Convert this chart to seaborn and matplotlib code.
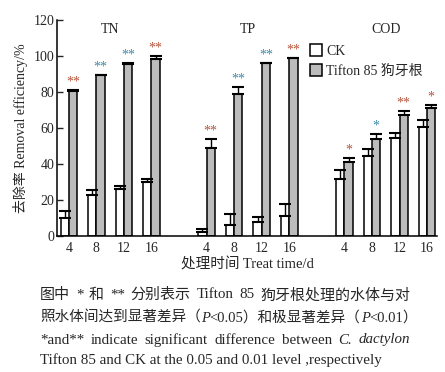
import pandas as pd
import matplotlib.pyplot as plt
import seaborn as sns

# data (removal efficiency, %)
groups = ["TN", "TP", "COD"]
days = [4, 8, 12, 16]
ck_mean = [9.9, 22.7, 26.0, 29.9,
           2.6, 6.1, 7.8, 11.3,
           31.7, 44.6, 54.4, 60.7]
ck_err = [3.9, 2.8, 1.9, 1.7,
          1.3, 6.1, 2.8, 6.5,
          5.0, 3.7, 2.8, 3.9]
tif_mean = [80.7, 89.4, 95.9, 98.3,
            48.9, 78.9, 96.1, 98.9,
            41.1, 53.9, 67.4, 71.1]
tif_err = [0.6, 0.5, 0.4, 1.7,
           5.0, 3.9, 0.3, 0.4,
           2.2, 2.8, 2.2, 1.7]
sig_marks = ["**", "**", "**", "**",
             "**", "**", "**", "**",
             "*", "*", "**", "*"]
sig_colors = ["#b4553d", "#3d8aa6", "#3d8aa6", "#b4553d",
              "#b4553d", "#3d8aa6", "#3d8aa6", "#b4553d",
              "#b4553d", "#3d8aa6", "#b4553d", "#b4553d"]

ck_name = "CK"
tif_name = "Tifton 85 狗牙根"

# slot positions: 4 days per group, one empty slot between groups
pos = [g * 5 + i for g in range(len(groups)) for i in range(len(days))]
tick_labels = [str(d) for _ in groups for d in days]

df = pd.DataFrame({
    "pos": pos * 2,
    "value": ck_mean + tif_mean,
    "err": ck_err + tif_err,
    "group": [ck_name] * len(pos) + [tif_name] * len(pos),
})

sns.set_theme(style="ticks")
plt.rcParams["font.family"] = ["Liberation Serif", "Noto Sans CJK SC"]

fig = plt.figure(figsize=(4.45, 3.72), dpi=100)
ax = fig.add_axes([0.128, 0.365, 0.854, 0.580])

sns.barplot(data=df, x="pos", y="value", hue="group", native_scale=True,
            palette={ck_name: "white", tif_name: "#bcbcbc"},
            edgecolor="black", linewidth=1.1, width=0.6,
            errorbar=None, ax=ax)

# one-sided error bars + significance marks
for p in ax.patches:
    cx = p.get_x() + p.get_width() / 2
    h = p.get_height()
    hit = df[(abs(df["pos"] - cx) < 0.5) & (abs(df["value"] - h) < 1e-6)]
    if hit.empty:
        continue
    row = hit.iloc[0]
    ax.errorbar(cx, h, yerr=[[0], [row["err"]]], fmt="none", ecolor="black",
                elinewidth=1.0, capsize=4.2, capthick=1.5, zorder=3)
    if row["group"] == tif_name:
        k = pos.index(int(row["pos"]))
        ax.text(cx, h + row["err"] + 0.8, sig_marks[k],
                ha="center", va="bottom", fontsize=10, color=sig_colors[k])

# group titles
for g, name in enumerate(groups):
    center = sum(pos[g * 4:(g + 1) * 4]) / 4
    ax.text(center, 115, name, ha="center", va="center", fontsize=10)

ax.set_xlim(-0.43, 13.36)
ax.set_ylim(0, 120)
ax.set_yticks(range(0, 121, 20))
ax.set_xticks(pos)
ax.set_xticklabels(tick_labels)
ax.tick_params(axis="y", direction="in", length=4, width=1, labelsize=10, pad=2)
ax.tick_params(axis="x", length=0, labelsize=10, pad=4)
sns.despine(ax=ax)
for s in ["left", "bottom"]:
    ax.spines[s].set_linewidth(1.1)
    ax.spines[s].set_color("black")

ax.set_xlabel("处理时间 Treat time/d", fontsize=10.5, labelpad=2)
ax.set_ylabel("去除率 Removal efficiency/%", fontsize=10, labelpad=4)

ax.legend(loc="upper left", bbox_to_anchor=(0.665, 0.89), frameon=False,
          fontsize=10, handlelength=0.9, handleheight=0.9, handletextpad=0.3,
          labelspacing=0.45, borderpad=0, borderaxespad=0)

# caption, drawn segment by segment so italics and CJK both work
renderer = fig.canvas.get_renderer()
left_px, right_px = 40, 410


def caption_line(y_px, segments, size=10.8, justify=False):
    items = [fig.text(0, 1 - y_px / 372, s, fontsize=size, style=st,
                      va="center", ha="left") for s, st in segments]
    widths = [t.get_window_extent(renderer).width for t in items]
    gap = 0
    if justify and len(items) > 1:
        gap = (right_px - left_px - sum(widths)) / (len(items) - 1)
    x_px = left_px
    for t, w in zip(items, widths):
        t.set_x(x_px / 445)
        x_px += w + gap


caption_line(295, [("图中", "normal"), ("*", "normal"), ("和", "normal"),
                   ("**", "normal"), ("分别表示", "normal"), ("Tifton", "normal"),
                   ("85", "normal"), ("狗牙根处理的水体与对", "normal")],
             justify=True)
caption_line(318, [("照水体间达到显著差异（", "normal"), ("P", "italic"),
                   ("<0.05）和极显著差异（", "normal"), ("P", "italic"),
                   ("<0.01）", "normal")], size=10.5)
caption_line(340, [("*and**", "normal"), ("indicate", "normal"),
                   ("significant", "normal"), ("difference", "normal"),
                   ("between", "normal"), ("C.", "italic"),
                   ("dactylon", "italic")], justify=True)
caption_line(360, [("Tifton 85 and CK at the 0.05 and 0.01 level ,respectively", "normal")])

fig.savefig("out.png", dpi=100)
